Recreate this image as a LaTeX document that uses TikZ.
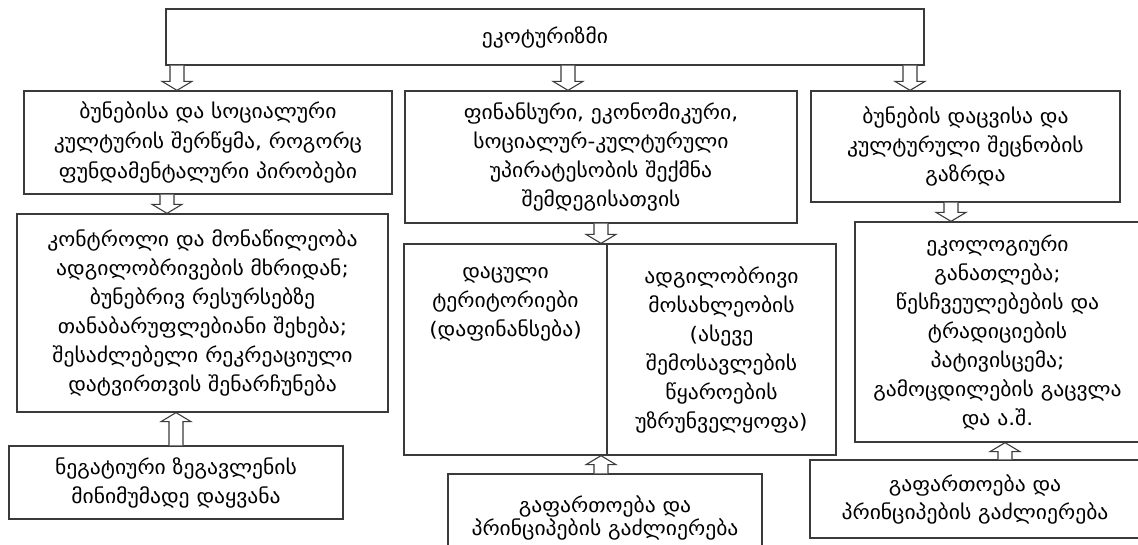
\documentclass[tikz,border=0pt]{standalone}
\usepackage{fontspec}
\setmainfont{DejaVu Sans}[FakeStretch=1.08]
\usetikzlibrary{calc}
\definecolor{edge}{HTML}{3A3A3A}
\tikzset{
  box/.style={draw=edge, line width=1.3pt, rectangle, inner sep=0pt, align=center,
    font=\fontsize{20}{29}\selectfont, text=black},
  blk/.style={draw=edge, line width=1.1pt, fill=white, line join=miter},
}
\newcommand\blkarrow[4]{%
  \draw[blk] let \p1=(#2), \p2=(#3) in
    ({#1pt-7pt},\y1) -- ({#1pt-7pt},{\y2+#4*9pt}) -- ({#1pt-15pt},{\y2+#4*9pt})
    -- ({#1pt},\y2) -- ({#1pt+15pt},{\y2+#4*9pt}) -- ({#1pt+7pt},{\y2+#4*9pt})
    -- ({#1pt+7pt},\y1);}
\begin{document}
\begin{tikzpicture}[x=1pt,y=-1pt]
\useasboundingbox (0,0) rectangle (1138,544);
\begin{scope}
\clip (0,0) rectangle (1138,544);
% row 1
\node[box, minimum width=758pt, minimum height=56pt] (T) at (545,37) {ეკოტურიზმი};
% row 2
\node[box, minimum width=368pt, minimum height=103pt, font=\fontsize{20}{30}\selectfont] (A) at (208,142.5)
  {ბუნებისა და სოციალური\\კულტურის შერწყმა, როგორც\\ფუნდამენტალური პირობები};
\node[box, minimum width=392pt, minimum height=132pt] (B) at (601,157)
  {ფინანსური, ეკონომიკური,\\სოციალურ-კულტურული\\უპირატესობის შექმნა\\შემდეგისათვის};
\node[box, minimum width=309pt, minimum height=111pt] (C) at (965.5,146.5)
  {ბუნების დაცვისა და\\კულტურული შეცნობის\\გაზრდა};
% row 3
\node[box, minimum width=371pt, minimum height=198pt] (D) at (202.5,313)
  {კონტროლი და მონაწილეობა\\ადგილობრივების მხრიდან;\\ბუნებრივ რესურსებზე\\თანაბარუფლებიანი შეხება;\\შესაძლებელი რეკრეაციული\\დატვირთვის შენარჩუნება};
\node[box, minimum width=203pt, minimum height=211pt] (E1) at (505.5,349.5)
  {დაცული\\ტერიტორიები\\(დაფინანსება)\\\strut\\\strut\\\strut};
\node[box, minimum width=229pt, minimum height=211pt] (E2) at (721.5,349.5)
  {ადგილობრივი\\მოსახლეობის\\(ასევე\\შემოსავლების\\წყაროების\\უზრუნველყოფა)};
\node[box, minimum width=285pt, minimum height=220pt] (F) at (997.5,332)
  {ეკოლოგიური\\განათლება;\\წესჩვეულებების და\\ტრადიციების\\პატივისცემა;\\გამოცდილების გაცვლა\\და ა.შ.};
% row 4
\node[box, minimum width=334pt, minimum height=73pt] (G) at (176,482.5)
  {ნეგატიური ზეგავლენის\\მინიმუმადე დაყვანა};
\node[box, minimum width=314pt, minimum height=88pt, font=\fontsize{20}{23}\selectfont] (H) at (605,518)
  {გაფართოება და\\პრინციპების გაძლიერება};
\node[box, minimum width=330pt, minimum height=78pt, font=\fontsize{20}{28}\selectfont] (I) at (975,499)
  {გაფართოება და\\პრინციპების გაძლიერება};
% arrows
\blkarrow{177}{T.south -| 177,0}{A.north -| 177,0}{1}
\blkarrow{568}{T.south -| 568,0}{B.north -| 568,0}{1}
\blkarrow{910}{T.south -| 910,0}{C.north -| 910,0}{1}
\blkarrow{167}{A.south}{D.north}{1}
\blkarrow{601}{B.south}{E1.north east}{1}
\blkarrow{951}{C.south}{F.north}{1}
\blkarrow{176}{G.north}{D.south}{-1}
\blkarrow{601}{H.north}{E1.south east}{-1}
\blkarrow{1005}{I.north}{F.south}{-1}
\end{scope}
\end{tikzpicture}
\end{document}
